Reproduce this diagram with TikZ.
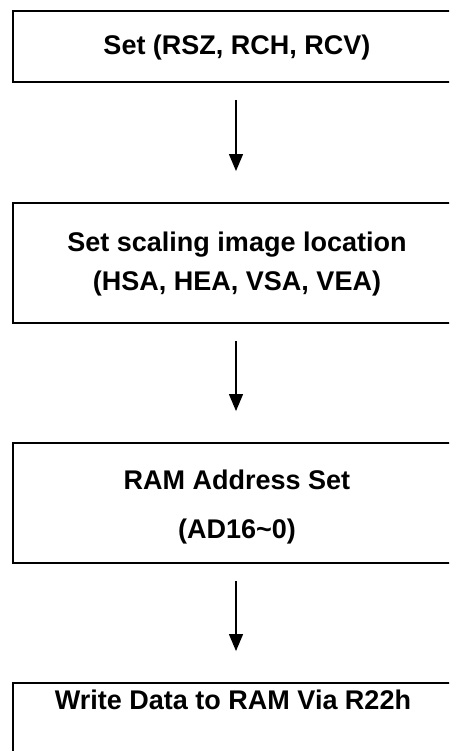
\documentclass[tikz,border=0pt]{standalone}
\usepackage{fontspec}
\setmainfont{Liberation Sans}
\usetikzlibrary{arrows.meta}
\begin{document}
\begin{tikzpicture}[x=1pt,y=-1pt,
  boxst/.style={draw=black, line width=1.9pt, rectangle, minimum width=448pt, inner sep=0pt},
  txt/.style={anchor=base, font=\fontsize{27}{30}\selectfont\bfseries, inner sep=0pt},
  flow/.style={line width=1.3pt, -{Triangle[width=14pt,length=17pt]}, shorten <=17pt, shorten >=31pt}]
\useasboundingbox (0,0) rectangle (449,751);
\fill[white] (0,0) rectangle (449,751);
\clip (0,0) rectangle (449,751);
\node[boxst, minimum height=71pt] (b1) at (237,46.5) {};
\node[boxst, minimum height=120pt] (b2) at (237,263) {};
\node[boxst, minimum height=120pt] (b3) at (237,503) {};
\node[boxst, minimum height=120pt] (b4) at (237,743) {};
\node[txt] (t1) at (237,55) {Set (RSZ, RCH, RCV)};
\node[txt] (t2a) at (237,251) {Set scaling image location};
\node[txt] (t2b) at (237,290) {(HSA, HEA, VSA, VEA)};
\node[txt] (t3a) at (237,489) {RAM Address Set};
\node[txt] (t3b) at (237,538) {(AD16\char`~0)};
\node[txt] (t4) at (233,709) {Write Data to RAM Via R22h};
\draw[flow] ([xshift=-1pt]b1.south) -- ([xshift=-1pt]b2.north);
\draw[flow] ([xshift=-1pt]b2.south) -- ([xshift=-1pt]b3.north);
\draw[flow] ([xshift=-1pt]b3.south) -- ([xshift=-1pt]b4.north);
\end{tikzpicture}
\end{document}
